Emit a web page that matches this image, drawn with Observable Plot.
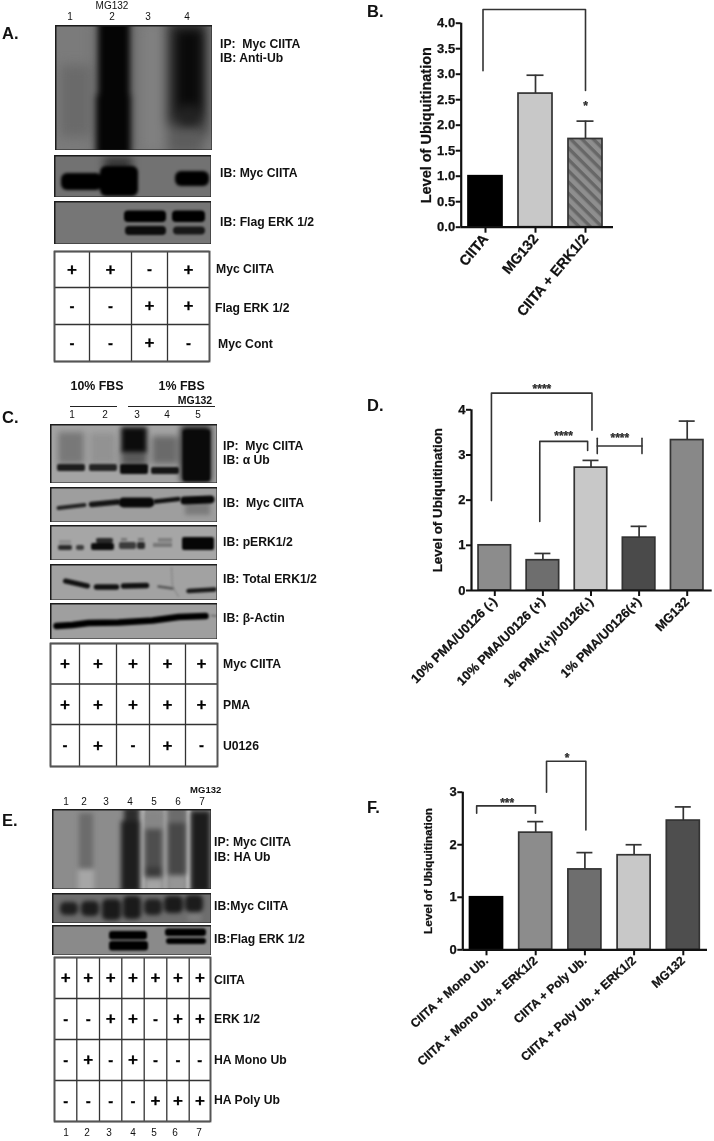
<!DOCTYPE html>
<html><head><meta charset="utf-8">
<script src="https://cdn.jsdelivr.net/npm/d3@7"></script>
<script src="https://cdn.jsdelivr.net/npm/@observablehq/plot@0.6"></script>
<style>
html,body{margin:0;padding:0;background:#fff}
#page{position:relative;width:714px;height:1141px;overflow:hidden;font-family:"Liberation Sans",Arial,sans-serif;color:#111;filter:blur(0.35px)}
#page svg.p{position:absolute;background:transparent}
#page svg.p text{font-weight:bold;stroke:#111;stroke-width:0.25px}
.t{position:absolute;white-space:pre;transform:translateY(-50%);line-height:1}
.c{transform:translate(-50%,-50%)}
.b{font-weight:bold}
</style></head><body>
<div id="page">
<svg width="0" height="0" style="position:absolute"><defs>
<pattern id="hatch" width="8" height="8" patternUnits="userSpaceOnUse" patternTransform="rotate(45)">
<rect width="8" height="8" fill="#8e8e8e"/><rect width="8" height="3.4" fill="#676767"/></pattern>
</defs></svg>
</div>
<script>
// ---------- bar chart data ----------
const catsB = ["CIITA","MG132","CIITA + ERK1/2"];
const valsB = [1.0,2.62,1.73];
const errsB = [null,2.98,2.08];
const fillB = ["#000000","#c8c8c8","url(#hatch)"];
const ticksB = [0,0.5,1,1.5,2,2.5,3,3.5,4];
const brkB = [[[-0.05,3.07],[-0.05,4.27],[2.0,4.27],[2.0,2.68]]];
const starB = [[2.0,2.38,"*"]];

const catsD = ["10% PMA/U0126 (-)","10% PMA/U0126 (+)","1% PMA(+)/U0126(-)","1% PMA/U0126(+)","MG132"];
const valsD = [1.0,0.67,2.72,1.17,3.33];
const errsD = [null,0.82,2.88,1.42,3.75];
const fillD = ["#8c8c8c","#6e6e6e","#c8c8c8","#4a4a4a","#888888"];
const ticksD = [0,1,2,3,4];
const brkD = [
 [[-0.07,1.99],[-0.07,4.37],[2.02,4.37],[2.02,3.55]],
 [[0.935,1.53],[0.935,3.3],[1.93,3.3],[1.93,3.1]],
 [[2.13,3.37],[2.13,3.03]],
 [[2.13,3.2],[3.06,3.2]],
 [[3.06,3.37],[3.06,3.03]]
];
const starD = [[0.98,4.46,"****"],[1.43,3.42,"****"],[2.6,3.37,"****"]];

const catsF = ["CIITA + Mono Ub.","CIITA + Mono Ub. + ERK1/2","CIITA + Poly Ub.","CIITA + Poly Ub. + ERK1/2","MG132"];
const valsF = [1.0,2.23,1.53,1.8,2.46];
const errsF = [null,2.44,1.85,2.0,2.72];
const fillF = ["#000000","#8c8c8c","#6e6e6e","#c8c8c8","#4e4e4e"];
const ticksF = [0,1,2,3];
const brkF = [
 [[-0.2,2.6],[-0.2,2.74],[0.995,2.74],[0.995,2.6]],
 [[1.22,3.0],[1.22,3.59],[2.02,3.59],[2.02,2.28]]
];
const starF = [[0.42,2.8,"***"],[1.64,3.64,"*"]];

// ---------- condition tables ----------
const tableA = ["++-+","--++","--+-"];
const rowsA = ["Myc CIITA","Flag ERK 1/2","Myc Cont"];
const tableC = ["+++++","+++++","-+-+-"];
const rowsC = ["Myc CIITA","PMA","U0126"];
const tableE = ["+++++++","--++-++","-+-+---","----+++"];
const rowsE = ["CIITA","ERK 1/2","HA Mono Ub","HA Poly Ub"];

// ---------- blot densities: [from, to, top, bottom, grey] on each membrane ----------
const a1soft = [[5,36,40,112,"#6a6a6a"],[38,84,-4,129,"#707070"],[84,112,0,125,"#808080"],[112,152,-4,112,"#2a2a2a"],[112,148,100,129,"#5c5c5c"]];
const a1mid = [[122,146,6,88,"#0a0a0a"],[125,143,80,100,"#222222"]];
const a1hard = [[43,75,-5,80,"#050505"],[41,76,70,132,"#050505"]];
const a2soft = [[50,78,2,16,"#333333"]];
const a2hard = [[7,48,18,35,"#000000"],[46,84,11,41,"#000000"],[121,155,16,31,"#000000"]];
const a3hard = [[70,112,9.5,21,"#000000"],[118,151,9.5,21,"#000000"],[71,112,25,34,"#0c0c0c"],[119,151,25.5,33.5,"#181818"]];

const c1soft = [[8,34,8,40,"#787878"],[40,66,9,40,"#929292"],[71,97,28,42,"#585858"],[102,128,12,40,"#6a6a6a"],[131,161,2,58,"#111111"]];
const c1mid = [[71,97,3,29,"#0c0c0c"]];
const c1hard = [[7,35,40,47,"#1c1c1c"],[39,67,40,47,"#242424"],[70,98,40,50,"#0c0c0c"],[101,129,43,50,"#151515"],[133,160,6,57,"#0a0a0a"]];
const c2soft = [[135,160,16,28,"#7c7c7c"]];
const c2lines = [[[[8,20.5],[34,17.5]],4,"#222222"],[[[41,17],[67,14.5]],5.5,"#151515"],[[[73,15],[99,15]],10,"#080808"],[[[105,14],[128,11.5]],4.5,"#111111"],[[[134,13],[160,12]],8,"#080808"]];
const c3soft = [[9,21,15,19,"#8f8f8f"],[71,77,13,16,"#777777"],[88,94,13,16,"#777777"],[108,122,13,17,"#808080"],[103,122,18,22,"#777777"]];
const c3hard = [[8,22,20,25,"#2a2a2a"],[26,34,20,25,"#3c3c3c"],[41,64,18,25,"#0c0c0c"],[46,63,13,18,"#2a2a2a"],[69,86,17,24,"#3c3c3c"],[87,95,17,24,"#2a2a2a"],[132,164,12,25,"#060606"]];
const c4lines = [[[[15,16.5],[26,19],[37,21.5]],5,"#111111"],[[[46,22.5],[66,22.5]],5.5,"#111111"],[[[73,21.5],[96,21]],5.5,"#111111"],[[[108,22],[122,24]],2.5,"#555555"],[[[138,26.5],[164,25]],4.5,"#1a1a1a"],[[[121,3],[122,22],[128,32]],0.7,"#707070"]];
const c5lines = [[[[6,22.5],[22,21.5],[38,19.5],[68,19],[102,17],[128,13.5],[155,12.5]],6.5,"#000000"],[[[161,12],[166,12.5]],1.5,"#666666"]];

const e1strip = [[87,93,-3,83,"#b4b4b4"],[111,116,-3,83,"#a0a0a0"],[134,139,-3,83,"#c8c8c8"]];
const e1soft = [[27,41,4,60,"#6c6c6c"],[26,42,60,83,"#a6a6a6"],[72,87,-2,12,"#2c2c2c"],[69,88,12,83,"#1e1e1e"],[93,110,3,20,"#868686"],[93,110,20,58,"#4e4e4e"],[93,110,58,68,"#3a3a3a"],[94,110,71,83,"#a5a5a5"],[116,134,-2,14,"#6c6c6c"],[116,134,14,66,"#484848"],[117,133,68,83,"#969696"],[139,158,2,83,"#1c1c1c"]];
const e2soft = [[8,26,9,22,"#1f1f1f"],[29,47,8,23,"#1c1c1c"],[50,69,6,27,"#1a1a1a"],[71,89,3,26,"#1a1a1a"],[92,110,6,22,"#1f1f1f"],[112,131,3,20,"#1a1a1a"],[133,151,2,19,"#1c1c1c"],[135,150,20,29,"#7c7c7c"]];
const e3hard = [[57,95,6,14.5,"#000000"],[57,96,16,25.5,"#000000"],[113,154,3.5,11,"#000000"],[114,154,13,19,"#000000"]];

// ---------- layout (page pixels) ----------
const page = d3.select("#page");
const FONT = '"Liberation Sans",Arial,sans-serif';
function put(node,left,top){ node.classList.add("p"); node.style.left=left+"px"; node.style.top=top+"px"; document.getElementById("page").appendChild(node); }
function label(s,x,y,size,o={}){
  page.append("div").attr("class","t"+(o.regular?"":" b")+(o.center?" c":"")).style("left",x+"px").style("top",y+"px").style("font-size",size+"px").text(s);
}
function blot(left,top,w,h,bg,layers,lines=[],lineBlur=0.8){
  const marks=[Plot.rect([0],{x1:0,x2:w,y1:0,y2:h,fill:bg})];
  for(const [rows,blur,r=0] of layers){
    marks.push(Plot.rect(rows,{x1:d=>d[0],x2:d=>d[1],y1:d=>d[2],y2:d=>d[3],fill:d=>d[4],r,imageFilter:`blur(${blur}px)`}));
  }
  for(const [pts,width,grey] of lines){
    marks.push(Plot.line(pts,{x:d=>d[0],y:d=>d[1],stroke:grey,strokeWidth:width,imageFilter:`blur(${lineBlur}px)`}));
  }
  marks.push(Plot.frame({stroke:"#1c1c1c",strokeWidth:2}));
  const n=Plot.plot({width:w,height:h,margin:0,x:{domain:[0,w],axis:null},y:{domain:[0,h],reverse:true,axis:null},color:{type:"identity"},clip:true,marks});
  n.style.overflow="hidden";
  put(n,left,top);
}
function table(left,top,xs,ys,rows){
  const w=xs[xs.length-1]-xs[0],h=ys[ys.length-1]-ys[0];
  const cells=[];
  rows.forEach((r,j)=>[...r].forEach((s,i)=>cells.push({x:(xs[i]+xs[i+1])/2-xs[0],y:(ys[j]+ys[j+1])/2-ys[0],s})));
  const n=Plot.plot({width:w+4,height:h+4,marginLeft:2,marginRight:2,marginTop:2,marginBottom:2,
    x:{domain:[0,w],axis:null},y:{domain:[0,h],reverse:true,axis:null},
    marks:[
      Plot.ruleX(xs.map(v=>v-xs[0]),{stroke:"#333",strokeWidth:1.3}),
      Plot.ruleY(ys.map(v=>v-ys[0]),{stroke:"#333",strokeWidth:1.3}),
      Plot.frame({stroke:"#555",strokeWidth:1.8}),
      Plot.text(cells,{x:"x",y:"y",text:d=>d.s==="-"?"-":"+",fontSize:d=>d.s==="-"?15:17,fontWeight:"bold",fontFamily:FONT,fill:"#000"})
    ]});
  put(n,left-2,top-2);
}
function bars(o){
  const [left,top,w,h]=o.box;
  const rows=o.vals.map((v,i)=>({i,v,e:o.errs[i],f:o.fills[i]}));
  const hw=o.bw/o.step/2, cap=o.cap/o.step/2;
  const err=rows.filter(d=>d.e!=null);
  const n=Plot.plot({width:w,height:h,
    marginLeft:o.ax-left,marginRight:left+w-o.axEnd,marginTop:o.yTop-top,marginBottom:top+h-o.y0,
    x:{domain:[(o.ax-o.x0)/o.step,(o.axEnd-o.x0)/o.step]},
    y:{domain:[0,o.yMax]},
    color:{type:"identity"},
    style:{fontFamily:FONT,fontWeight:"bold",color:"#111",overflow:"visible",background:"transparent"},
    marks:[
      Plot.ruleX(err,{x:"i",y1:"v",y2:"e",stroke:"#333",strokeWidth:1.7}),
      Plot.ruleY(err,{y:"e",x1:d=>d.i-cap,x2:d=>d.i+cap,stroke:"#333",strokeWidth:1.7}),
      Plot.rectY(rows,{x1:d=>d.i-hw,x2:d=>d.i+hw,y:"v",fill:"f",stroke:d=>d.f==="#000000"?"#000":"#333",strokeWidth:1.7}),
      ...o.brk.map(b=>Plot.line(b,{x:d=>d[0],y:d=>d[1],stroke:"#333",strokeWidth:1.6})),
      Plot.text(o.star,{x:d=>d[0],y:d=>d[1],text:d=>d[2],fontSize:12,fontWeight:"bold",fill:"#333",textAnchor:"middle"}),
      Plot.axisY({ticks:o.ticks,tickFormat:o.fmt,tickSize:5,tickPadding:1,strokeWidth:2,stroke:"#111",fontSize:o.fsY,
        label:"Level of Ubiquitination",labelAnchor:"center",labelArrow:"none",labelOffset:o.labOff}),
      Plot.axisX({ticks:o.cats.map((_,i)=>i),tickFormat:i=>o.cats[i],tickRotate:o.rot,tickSize:6,tickPadding:3,strokeWidth:2,stroke:"#111",fontSize:o.fsX,label:null}),
      Plot.ruleY([0],{stroke:"#111",strokeWidth:2.2}),
      Plot.ruleX([(o.ax-o.x0)/o.step],{y1:0,y2:o.yMax,stroke:"#111",strokeWidth:2.2})
    ]});
  // the axis title sits in its own text node: size it apart from the tick labels
  n.querySelectorAll('g[aria-label="y-axis label"] text').forEach(t=>t.style.fontSize=o.fsL+"px");
  put(n,left,top);
}

// ---------- Panel A ----------
label("A.",2,33,16.5);
label("MG132",112,6,10,{regular:true,center:true});
[[70,"1"],[112,"2"],[148,"3"],[187,"4"]].forEach(([x,s])=>label(s,x,17,10,{regular:true,center:true}));
blot(55,25,157,125,"#7b7b7b",[[a1soft,6],[a1mid,5],[a1hard,3]]);
blot(54,155,157,42,"#727272",[[a2soft,4],[a2hard,1.8,6]]);
blot(54,201,157,43,"#767676",[[a3hard,1,4]]);
table(54,251,[54,89,131,167,209],[251,287,324,361],tableA);
label("IP:  Myc CIITA",220,44,12.2); label("IB: Anti-Ub",220,58,12.2);
label("IB: Myc CIITA",220,173,12.2); label("IB: Flag ERK 1/2",220,222,12.2);
label(rowsA[0],216,268.5,12.2); label(rowsA[1],215,307.5,12.2); label(rowsA[2],218,344,12.2);

// ---------- Panel B ----------
label("B.",367,11,16.5);
bars({box:[400,0,314,340],ax:460.7,axEnd:613,y0:226.7,yTop:22.7,yMax:4,x0:485,step:50,bw:34,cap:17,rot:-50,
  cats:catsB,vals:valsB,errs:errsB,fills:fillB,ticks:ticksB,fmt:d3.format(".1f"),brk:brkB,star:starB,fsY:13,fsX:14.3,fsL:14.5,labOff:40});

// ---------- Panel C ----------
label("C.",2,417,16.5);
label("10% FBS",97,386,12.4,{center:true}); label("1% FBS",181.7,386,12.4,{center:true}); label("MG132",195,400,10.5,{center:true});
page.append("div").style("position","absolute").style("left","70px").style("top","405.5px").style("width","47px").style("height","1.3px").style("background","#222");
page.append("div").style("position","absolute").style("left","128px").style("top","405.5px").style("width","87px").style("height","1.3px").style("background","#222");
[[72,"1"],[105,"2"],[137,"3"],[167,"4"],[198,"5"]].forEach(([x,s])=>label(s,x,415,10,{regular:true,center:true}));
blot(50,424,167,59,"#a4a4a4",[[c1soft,3],[c1mid,2.4],[c1hard,1.3,2]]);
blot(50,487,167,35,"#9e9e9e",[[c2soft,2]],c2lines,1);
blot(50,525,167,35,"#a6a6a6",[[c3soft,1],[c3hard,1.1,2]]);
blot(50,564,167,36,"#a2a2a2",[],c4lines,0.8);
blot(50,603,167,36,"#9f9f9f",[],c5lines,0.9);
table(50,643,[50,79,116,149,185,217],[643,683.5,724,766],tableC);
label("IP:  Myc CIITA",223,446,12.2); label("IB: α Ub",223,460,12.2);
label("IB:  Myc CIITA",223,502.7,12.2); label("IB: pERK1/2",223,541.7,12.2);
label("IB: Total ERK1/2",223,579,12.2); label("IB: β-Actin",223,617.7,12.2);
label(rowsC[0],223,663.7,12.2); label(rowsC[1],223,704.7,12.2); label(rowsC[2],223,745.7,12.2);

// ---------- Panel D ----------
label("D.",367,405,16.5);
bars({box:[400,370,314,370],ax:471,axEnd:711.7,y0:590,yTop:409.3,yMax:4,x0:494.3,step:48.1,bw:32.5,cap:16,rot:-45,
  cats:catsD,vals:valsD,errs:errsD,fills:fillD,ticks:ticksD,fmt:d3.format("d"),brk:brkD,star:starD,fsY:13,fsX:12.8,fsL:13.4,labOff:39});

// ---------- Panel E ----------
label("E.",2,820,16.5);
label("MG132",205.7,790,9.5,{center:true});
[[66,"1"],[84,"2"],[106,"3"],[130,"4"],[154,"5"],[178,"6"],[202,"7"]].forEach(([x,s])=>label(s,x,802,10,{regular:true,center:true}));
blot(52,809,159,80,"#8c8c8c",[[e1strip,1.2],[e1soft,2.6]]);
blot(52,893,159,30,"#6e6e6e",[[e2soft,2.2,5]]);
blot(52,925,159,30,"#8a8a8a",[[e3hard,0.8,3]]);
table(54,957,[54,76.3,99,121.3,143.7,166.3,188.7,210],[957,998,1039,1080,1121],tableE);
label("IP: Myc CIITA",214,842.3,12.2); label("IB: HA Ub",214,856.7,12.2);
label("IB:Myc CIITA",214,906,12.2); label("IB:Flag ERK 1/2",214,939.3,12.2);
rowsE.forEach((s,i)=>label(s,214,[980,1018.7,1060.3,1100][i],12.2));
[[66,"1"],[87,"2"],[109,"3"],[133,"4"],[154,"5"],[175,"6"],[199,"7"]].forEach(([x,s])=>label(s,x,1133,10,{regular:true,center:true}));

// ---------- Panel F ----------
label("F.",367,807,16.5);
bars({box:[400,740,314,370],ax:462.3,axEnd:707,y0:949.3,yTop:791.7,yMax:3,x0:486,step:49.2,bw:33,cap:16,rot:-42,
  cats:catsF,vals:valsF,errs:errsF,fills:fillF,ticks:ticksF,fmt:d3.format("d"),brk:brkF,star:starF,fsY:13,fsX:12.2,fsL:11.7,labOff:39});
</script>
</body></html>
